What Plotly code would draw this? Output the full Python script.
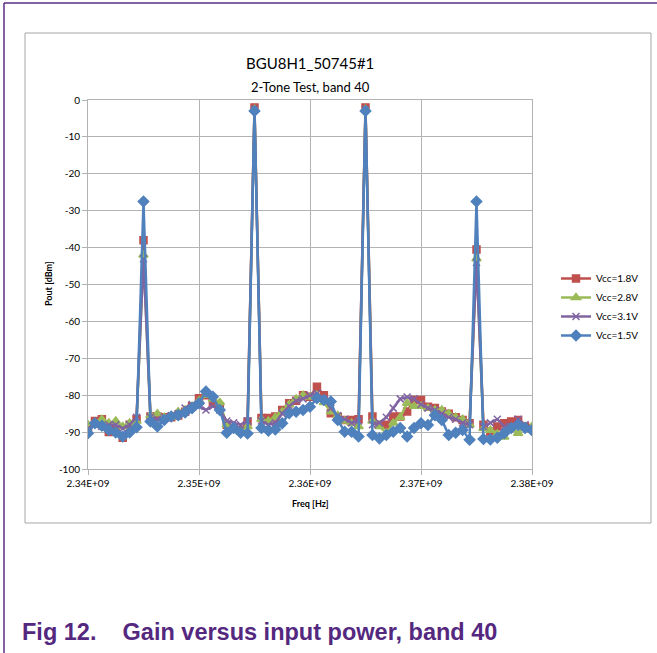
import plotly.graph_objects as go

# Frequency grid: 65 points, 2.34 GHz .. 2.38 GHz (0.625 MHz step)
freq_start_hz = 2.34e9
freq_step_hz = 0.625e6
n_points = 65
freq_hz = [freq_start_hz + i * freq_step_hz for i in range(n_points)]

vcc_18 = [-89, -87, -86.5, -90, -89.5, -91.5, -88, -86.5, -38, -85.8, -85.8, -86, -86, -85.5, -84.5, -83,
          -80.8, -80, -82, -83, -88, -89, -89.5, -87.1, -2, -86.2, -86.2, -85.8, -84, -82.2, -81.5, -80,
          -80.4, -77.7, -80, -84.9, -86, -86.7, -86.7, -86.5, -2, -85.8, -88, -88, -85.8, -85.8, -84.4, -81.3,
          -81.3, -83.1, -83.5, -84.4, -85, -86, -86.7, -87.6, -40.5, -88, -89.9, -88.5, -87.6, -87.1, -86.7, -88.5, -89]
vcc_28 = [-88, -87.5, -86.5, -87.5, -87, -88.5, -87.5, -87, -42, -85.5, -85, -86, -86, -84.5, -84, -83,
          -81.5, -80, -81, -82, -88, -89.5, -90, -88.5, -2.5, -86.5, -87, -86, -84.5, -82.5, -81, -80,
          -80.5, -80, -82, -84.5, -85.5, -87, -87.6, -88.5, -2.5, -87, -88.5, -90.2, -87.5, -86, -82.2, -83,
          -83, -83.5, -84, -84, -85, -86, -86.5, -88, -43, -89, -89.5, -90.5, -91.3, -89, -90.3, -88.5, -88.5]
vcc_31 = [-89, -88, -88.5, -88, -88, -89, -88, -86, -43, -86, -86.5, -86, -85.5, -85, -83.5, -82.5,
          -83, -84, -83, -84, -87, -87.5, -88, -87, -2.5, -87, -88, -87.5, -85, -83, -81.5, -81,
          -80, -79.5, -81, -83.5, -85.5, -86.5, -87.5, -87, -2.5, -88, -87.5, -86, -83.5, -81, -80.5, -81,
          -82.5, -83.5, -84, -85, -86, -86.5, -87.5, -88, -44, -88.5, -87.5, -86.5, -88.5, -88.5, -86.5, -88, -89]
vcc_15 = [-90.3, -87.6, -88.3, -89.4, -90.1, -91.2, -90.1, -88.7, -27.5, -87.1, -88.5, -86.7, -85.8, -85.4, -84.7, -83.5,
          -82.2, -79.0, -80.4, -84, -90.2, -88.9, -90.2, -90.4, -3, -88.9, -89.6, -89.3, -87.6, -84.9, -84.5, -84,
          -83.1, -80.8, -81.3, -81.7, -86.7, -89.9, -89.9, -91.2, -3, -90.8, -91.7, -90.8, -89.9, -88.9, -91.2, -88.9,
          -87.6, -88.1, -85.4, -86.7, -90.8, -90.2, -89.4, -92.1, -27.5, -91.9, -92, -91.5, -90.3, -88.9, -88.1, -88.9, -89.5]

x_tick_vals = [2.34e9, 2.35e9, 2.36e9, 2.37e9, 2.38e9]
x_tick_text = ["2.34E+09", "2.35E+09", "2.36E+09", "2.37E+09", "2.38E+09"]
y_tick_vals = [0, -10, -20, -30, -40, -50, -60, -70, -80, -90, -100]
y_tick_text = ["0", "-10", "-20", "-30", "-40", "-50", "-60", "-70", "-80", "-90", "-100"]

series = [
    ("Vcc=1.8V", vcc_18, "#C0504D", "square", 7),
    ("Vcc=2.8V", vcc_28, "#9BBB59", "triangle-up", 8),
    ("Vcc=3.1V", vcc_31, "#8064A2", "x-thin", 7),
    ("Vcc=1.5V", vcc_15, "#4F81BD", "diamond", 8),
]

fig = go.Figure()
for name, vals, color, sym, size in series:
    fig.add_trace(go.Scatter(
        x=freq_hz, y=vals, name=name, mode="lines+markers",
        line=dict(color=color, width=2.5),
        marker=dict(symbol=sym, size=size, color=color,
                    line=dict(color=color, width=1.5)),
    ))

L, R, T, B = 88, 532, 100, 469
W, H = 657, 653
pw, ph = R - L, B - T

def px(x):
    return (x - L) / pw

def py(y):
    return (B - y) / ph

grid = "#b3b3b3"
font_fam = "Lato, 'Open Sans', sans-serif"

fig.update_layout(
    width=W, height=H,
    margin=dict(l=L, r=W - R, t=T, b=H - B, pad=0),
    paper_bgcolor="white", plot_bgcolor="white",
    font=dict(family=font_fam, size=10, color="#000000"),
    showlegend=True,
    legend=dict(x=px(556), y=py(264), xanchor="left", yanchor="top",
                font=dict(size=10, family=font_fam), tracegroupgap=0,
                itemwidth=30, bgcolor="rgba(0,0,0,0)", borderwidth=0),
    xaxis=dict(range=[2.34e9, 2.38e9], tickvals=x_tick_vals, ticktext=x_tick_text,
               showgrid=True, gridcolor=grid, gridwidth=1,
               showline=True, linecolor=grid, linewidth=1, mirror=True,
               ticks="outside", ticklen=5, tickcolor=grid, zeroline=False,
               tickfont=dict(size=10), automargin=False),
    yaxis=dict(range=[-100, 0], tickvals=y_tick_vals, ticktext=y_tick_text,
               showgrid=True, gridcolor=grid, gridwidth=1,
               showline=True, linecolor=grid, linewidth=1, mirror=True,
               ticks="outside", ticklen=5, tickcolor=grid, zeroline=False,
               tickfont=dict(size=10), automargin=False),
)

shapes = [
    # chart frame
    dict(type="rect", xref="paper", yref="paper", x0=px(25), x1=px(651), y0=py(523), y1=py(33),
         line=dict(color="#a6a6a6", width=1), layer="below"),
    # page border lines (purple)
    dict(type="line", xref="paper", yref="paper", x0=px(4), x1=px(4), y0=py(3), y1=py(653),
         line=dict(color="#5B2C86", width=1.5)),
    dict(type="line", xref="paper", yref="paper", x0=px(4), x1=px(657), y0=py(3), y1=py(3),
         line=dict(color="#5B2C86", width=1.5)),
]
fig.update_layout(shapes=shapes)

annotations = [
    dict(text="BGU8H1_50745#1", x=px(310), y=py(63), xref="paper", yref="paper",
         showarrow=False, font=dict(size=15, family=font_fam), xanchor="center", yanchor="middle"),
    dict(text="2-Tone Test, band 40", x=px(310), y=py(87), xref="paper", yref="paper",
         showarrow=False, font=dict(size=13, family=font_fam), xanchor="center", yanchor="middle"),
    dict(text="<b>Pout [dBm]</b>", x=px(48), y=py(284), xref="paper", yref="paper", textangle=-90,
         showarrow=False, font=dict(size=9, family=font_fam), xanchor="center", yanchor="middle"),
    dict(text="<b>Freq [Hz]</b>", x=px(310), y=py(503), xref="paper", yref="paper",
         showarrow=False, font=dict(size=9, family=font_fam), xanchor="center", yanchor="middle"),
    dict(text="<b>Fig 12.\u00a0\u00a0\u00a0\u00a0Gain versus input power, band 40</b>", x=px(20), y=py(632),
         xref="paper", yref="paper", showarrow=False,
         font=dict(size=23.5, family="'Liberation Sans', Arial, sans-serif", color="#55287F"),
         xanchor="left", yanchor="middle"),
]
fig.update_layout(annotations=annotations)

fig.write_html(
    "out.html",
    config={"displayModeBar": False},
    post_script="document.body.style.margin='0';document.body.style.overflow='hidden';",
)
